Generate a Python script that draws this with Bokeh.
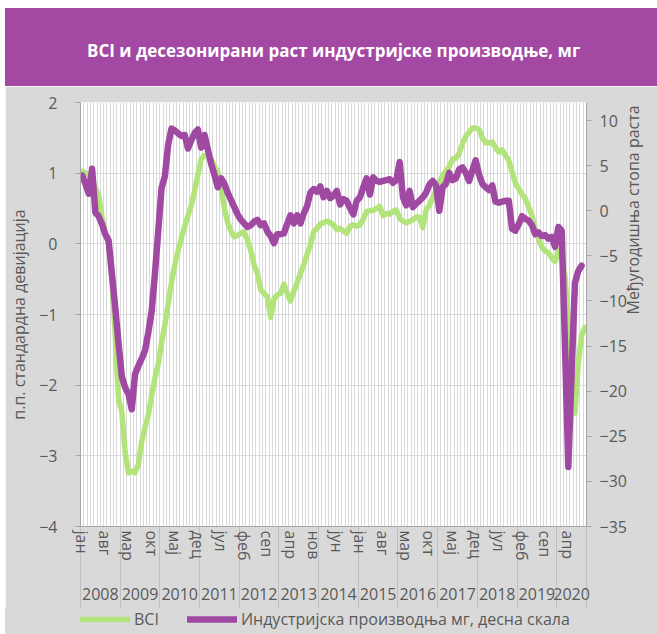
import math
from bokeh.plotting import figure
from bokeh.models import (Range1d, LinearAxis, FixedTicker, Grid, Label, Legend, LegendItem)
from bokeh.layouts import column
from bokeh.embed import file_html
from bokeh.resources import INLINE

# ---------------- data ----------------
title_text = "BCI и десезонирани раст индустријске производње, мг"
left_label = "п.п. стандардна девијација"
right_label = "Међугодишња стопа раста"
bci_name = "BCI"
ip_name = "Индустријска производња мг, десна скала"

month_names = ["јан", "феб", "мар", "апр", "мај", "јун", "јул", "авг", "сеп", "окт", "нов", "дец"]
years = ["2008", "2009", "2010", "2011", "2012", "2013", "2014", "2015", "2016", "2017", "2018", "2019", "2020"]
label_every = 7

left_ticks = [-4, -3, -2, -1, 0, 1, 2]
right_ticks = [-35, -30, -25, -20, -15, -10, -5, 0, 5, 10]

# BCI, monthly from Jan 2008 (left axis)
bci = [
    1.03, 1.0, 0.97, 0.9, 0.8, 0.68, 0.38, 0.15, 0.0, -0.5, -1.3, -2.2,          # 2008
    -2.38, -2.95, -3.24, -3.22, -3.24, -3.12, -2.8, -2.6, -2.42, -2.15, -1.9, -1.7,  # 2009
    -1.4, -1.15, -0.85, -0.55, -0.3, -0.1, 0.08, 0.25, 0.4, 0.55, 0.75, 0.98,    # 2010
    1.2, 1.25, 1.25, 1.2, 1.1, 1.02, 0.8, 0.5, 0.3, 0.18, 0.1, 0.12,             # 2011
    0.15, 0.17, 0.05, -0.1, -0.3, -0.42, -0.65, -0.7, -0.75, -1.04, -0.78, -0.72,  # 2012
    -0.7, -0.57, -0.7, -0.81, -0.67, -0.55, -0.42, -0.3, -0.15, -0.02, 0.17, 0.22,  # 2013
    0.28, 0.3, 0.32, 0.3, 0.27, 0.2, 0.22, 0.18, 0.15, 0.25, 0.27, 0.25,         # 2014
    0.27, 0.35, 0.46, 0.47, 0.47, 0.5, 0.53, 0.4, 0.43, 0.42, 0.46, 0.48,        # 2015
    0.36, 0.32, 0.3, 0.32, 0.34, 0.38, 0.38, 0.23, 0.48, 0.55, 0.65, 0.76,       # 2016
    0.86, 0.97, 1.03, 1.09, 1.2, 1.21, 1.28, 1.42, 1.52, 1.58, 1.64, 1.64,       # 2017
    1.62, 1.5, 1.43, 1.43, 1.44, 1.36, 1.3, 1.33, 1.25, 1.18, 1.02, 0.86,        # 2018
    0.78, 0.7, 0.64, 0.52, 0.4, 0.22, 0.07, -0.05, -0.1, -0.13, -0.2, -0.25,     # 2019
    -0.1, -0.2, -0.45, -1.1, -1.8, -2.4, -1.7, -1.3, -1.18,                      # 2020
]

# Industrial production y/y, monthly from Jan 2008 (right axis)
ip = [
    3.9, 3.0, 1.9, 4.65, -0.2, -0.6, -1.5, -2.6, -3.3, -7.0, -10.7, -14.7,       # 2008
    -18.4, -19.6, -20.3, -22.0, -18.1, -17.2, -16.4, -15.5, -13.5, -11.2, -7.0, -2.3,  # 2009
    2.5, 3.8, 7.3, 9.1, 8.9, 8.6, 8.3, 8.4, 6.9, 7.8, 8.6, 9.0,                  # 2010
    7.0, 8.4, 6.8, 5.2, 4.0, 2.6, 3.6, 3.0, 2.0, 1.2, 0.4, -0.4,                 # 2011
    -1.0, -1.4, -1.8, -1.6, -1.2, -1.0, -1.6, -1.4, -2.3, -2.8, -3.6, -2.6,      # 2012
    -2.6, -2.5, -1.45, -0.5, -1.4, -0.5, -1.4, -0.3, 0.5, 2.0, 2.4, 2.1,         # 2013
    2.7, 1.5, 2.2, 1.4, 1.7, 2.2, 0.7, 1.3, 1.1, 0.3, -0.4, 1.1,                 # 2014
    1.5, 2.6, 3.6, 1.8, 3.7, 3.3, 3.2, 3.3, 3.4, 3.5, 3.1, 3.4,                  # 2015
    5.4, 1.5, 0.6, 2.2, 0.4, 0.8, 1.1, 1.5, 2.0, 2.9, 3.3, 2.8,                  # 2016
    0.0, 2.6, 3.0, 4.2, 3.4, 3.6, 4.6, 4.8, 4.2, 3.3, 4.5, 5.6,                  # 2017
    4.0, 3.0, 2.6, 2.3, 2.8, 1.0, 0.9, 1.0, 1.1, 1.1, -2.0, -2.2,                # 2018
    -1.5, -0.6, -0.9, -1.1, -1.6, -2.6, -2.4, -2.8, -2.7, -3.1, -2.9, -4.0,      # 2019
    -1.8, -2.2, -15.0, -28.4, -18.0, -8.0, -6.7, -6.1,                           # 2020
]

# ---------------- styling ----------------
FONT = "Open Sans"
TXT = "#595959"
GRAY_BG = "#D9D9D9"
GRID = "#D9D9D9"
AXIS = "#A6A6A6"
PURPLE_BANNER = "#A349A4"
GREEN = "#B3E47B"
PURPLE = "#A049A3"
FS = "16px"
GREEN_W = 5.5
PURPLE_W = 6.5

n = len(bci)
# x unit = half a month; month i is centred at 2*i+1
bx = [2 * i + 1 for i in range(len(bci))]
ix = [2 * i + 1 for i in range(len(ip))]

W = 652

# ---------------- title banner ----------------
tp = figure(width=W, height=78, x_range=Range1d(0, 1), y_range=Range1d(0, 78),
            toolbar_location=None, output_backend="svg", x_axis_type=None, y_axis_type=None,
            min_border=0, outline_line_color=None, title=None,
            background_fill_color=None, border_fill_color=None,
            styles={"background-color": PURPLE_BANNER})
tp.add_layout(Label(x=0.5, y=36, text=title_text, text_align="center", text_baseline="middle",
                    text_color="white", text_font=FONT, text_font_size="17px",
                    text_font_style="bold"))

# ---------------- main chart ----------------
p = figure(width=W, height=522, x_range=Range1d(0, 2 * n), y_range=Range1d(-4, 2),
           toolbar_location=None, output_backend="svg", title=None,
           min_border_left=69, min_border_right=69, min_border_top=16, min_border_bottom=82,
           background_fill_color="white", border_fill_color=GRAY_BG, outline_line_color=None)
p.extra_y_ranges = {"right": Range1d(-35, 12)}

# month axis (first below); long minor ticks = year separators
xa = p.xaxis[0]
lab_idx = list(range(0, n, label_every))
xa.ticker = FixedTicker(ticks=[2 * i + 1 for i in lab_idx],
                        minor_ticks=[24 * k for k in range(len(years))] + [2 * n])
xa.major_label_overrides = {2 * i + 1: month_names[i % 12] for i in lab_idx}
xa.major_label_orientation = "vertical"
xa.major_tick_out = 0
xa.major_tick_in = 0
xa.minor_tick_in = 0
xa.minor_tick_out = 82
xa.minor_tick_line_color = "#BFBFBF"
xa.axis_line_color = AXIS
xa.major_label_standoff = -78
xa.major_label_text_font = FONT
xa.major_label_text_font_size = FS
xa.major_label_text_color = TXT

# year axis (second below)
year_centers = []
for k in range(len(years)):
    a = 24 * k
    b = min(24 * (k + 1), 2 * n)
    year_centers.append((a + b) // 2)
ya = LinearAxis(ticker=FixedTicker(ticks=year_centers),
                major_label_overrides={c: y for c, y in zip(year_centers, years)},
                axis_line_color=None, major_tick_line_color=None, minor_tick_line_color=None,
                major_tick_out=0, minor_tick_out=0,
                major_label_standoff=24, major_label_text_font=FONT,
                major_label_text_font_size=FS, major_label_text_color=TXT)
p.add_layout(ya, "below")

# left axis
la = p.yaxis[0]
la.ticker = FixedTicker(ticks=left_ticks)
la.major_tick_out = 5
la.major_tick_in = 0
la.minor_tick_line_color = None
la.axis_line_color = AXIS
la.major_tick_line_color = AXIS
la.major_label_standoff = 18
la.major_label_text_font = FONT
la.major_label_text_font_size = FS
la.major_label_text_color = TXT
la.axis_label = left_label
la.axis_label_standoff = 6
la.axis_label_text_font = FONT
la.axis_label_text_font_size = FS
la.axis_label_text_font_style = "normal"
la.axis_label_text_color = TXT

# right axis
ra = LinearAxis(y_range_name="right", ticker=FixedTicker(ticks=right_ticks),
                major_tick_out=5, major_tick_in=0, minor_tick_line_color=None,
                axis_line_color=AXIS, major_tick_line_color=AXIS, major_label_standoff=8,
                major_label_text_font=FONT, major_label_text_font_size=FS,
                major_label_text_color=TXT,
                axis_label=right_label, axis_label_standoff=3, axis_label_text_font=FONT,
                axis_label_text_font_size=FS, axis_label_text_font_style="normal",
                axis_label_text_color=TXT)
if "axis_label_orientation" in LinearAxis.properties():
    ra.axis_label_orientation = math.pi / 2
p.add_layout(ra, "right")

# grids
p.xgrid.visible = False
p.ygrid.grid_line_color = GRID
p.ygrid.grid_line_width = 1
vgrid = Grid(dimension=0, ticker=FixedTicker(ticks=list(range(0, 2 * n + 1, 2))),
             grid_line_color=GRID, grid_line_width=1)
p.add_layout(vgrid)

# lines
p.line(bx, bci, line_color=GREEN, line_width=GREEN_W, line_cap="round", line_join="round")
p.line(ix, ip, y_range_name="right", line_color=PURPLE, line_width=PURPLE_W,
       line_cap="round", line_join="round")

# ---------------- legend strip ----------------
# (the two series are drawn again here outside the visible ranges, only to feed the legend)
lf = figure(width=W, height=26, x_range=Range1d(-3, -2), y_range=Range1d(0, 1),
            toolbar_location=None, output_backend="svg", x_axis_type=None, y_axis_type=None,
            min_border=0, outline_line_color=None, title=None,
            background_fill_color=None, border_fill_color=None,
            styles={"background-color": GRAY_BG})
lg = lf.line(bx, bci, line_color=GREEN, line_width=GREEN_W, line_cap="round")
lp = lf.line(ix, ip, line_color=PURPLE, line_width=PURPLE_W, line_cap="round")
legend = Legend(items=[LegendItem(label=bci_name, renderers=[lg]),
                       LegendItem(label=ip_name, renderers=[lp])],
                orientation="horizontal", location=(0, 4),
                background_fill_alpha=0, border_line_color=None,
                glyph_width=50, glyph_height=20, label_standoff=4, spacing=28,
                padding=0, margin=0, label_text_font=FONT, label_text_font_size=FS,
                label_text_color=TXT)
lf.add_layout(legend)

layout = column(tp, p, lf, spacing=0, margin=(8, 0, 0, 5))
open("out.html", "w").write(file_html(layout, INLINE))
